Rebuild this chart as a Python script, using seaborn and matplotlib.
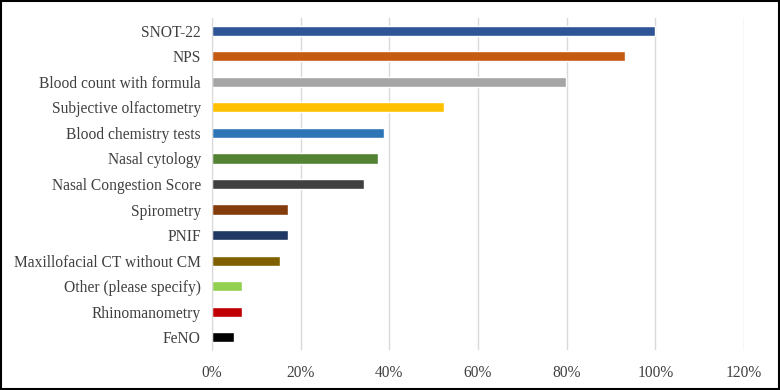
import matplotlib
matplotlib.use("Agg")
import matplotlib.pyplot as plt
import matplotlib.ticker as mtick
import seaborn as sns
import pandas as pd

# survey data (percent of respondents)
tests = ["SNOT-22", "NPS", "Blood count with formula", "Subjective olfactometry",
         "Blood chemistry tests", "Nasal cytology", "Nasal Congestion Score",
         "Spirometry", "PNIF", "Maxillofacial CT without CM",
         "Other (please specify)", "Rhinomanometry", "FeNO"]
percent = [100, 93.1, 79.8, 52.4, 38.9, 37.4, 34.2, 17.1, 17.1, 15.3, 6.8, 6.8, 5.0]
colors = ["#2F5597", "#C55A11", "#A5A5A5", "#FFC000", "#2E75B6", "#548235",
          "#404040", "#843C0C", "#1F3864", "#7F6000", "#92D050", "#C00000", "#000000"]
xticks = [0, 20, 40, 60, 80, 100, 120]

df = pd.DataFrame({"test": tests, "percent": percent})

sns.set_style("white")
plt.rcParams["font.family"] = ["Liberation Serif", "DejaVu Serif"]

fig = plt.figure(figsize=(7.8, 3.9), dpi=100)
ax = fig.add_axes([212 / 780, 40 / 390, (744 - 212) / 780, (350 - 18) / 390])

sns.barplot(data=df, x="percent", y="test", hue="test", palette=colors,
            legend=False, width=0.4, saturation=1, ax=ax)

ax.set_xlim(0, 120)
ax.set_ylim(12.5, -0.5)
ax.set_xticks(xticks)
ax.xaxis.set_major_formatter(mtick.PercentFormatter(decimals=0))
ax.grid(axis="x", color="#D9D9D9", linewidth=1)
ax.set_axisbelow(True)
for s in ["top", "right", "bottom"]:
    ax.spines[s].set_visible(False)
ax.spines["left"].set_color("#D9D9D9")
ax.set_xlabel("")
ax.set_ylabel("")
ax.tick_params(axis="both", length=0, labelsize=11.2, colors="#404040")
ax.tick_params(axis="y", pad=8)
ax.tick_params(axis="x", pad=11)

# black frame around the picture
fig.patches.append(plt.Rectangle((0.001, 0.002), 0.998, 0.996, transform=fig.transFigure,
                                 fill=False, edgecolor="black", linewidth=1.5))

fig.savefig("out.png", dpi=100)
